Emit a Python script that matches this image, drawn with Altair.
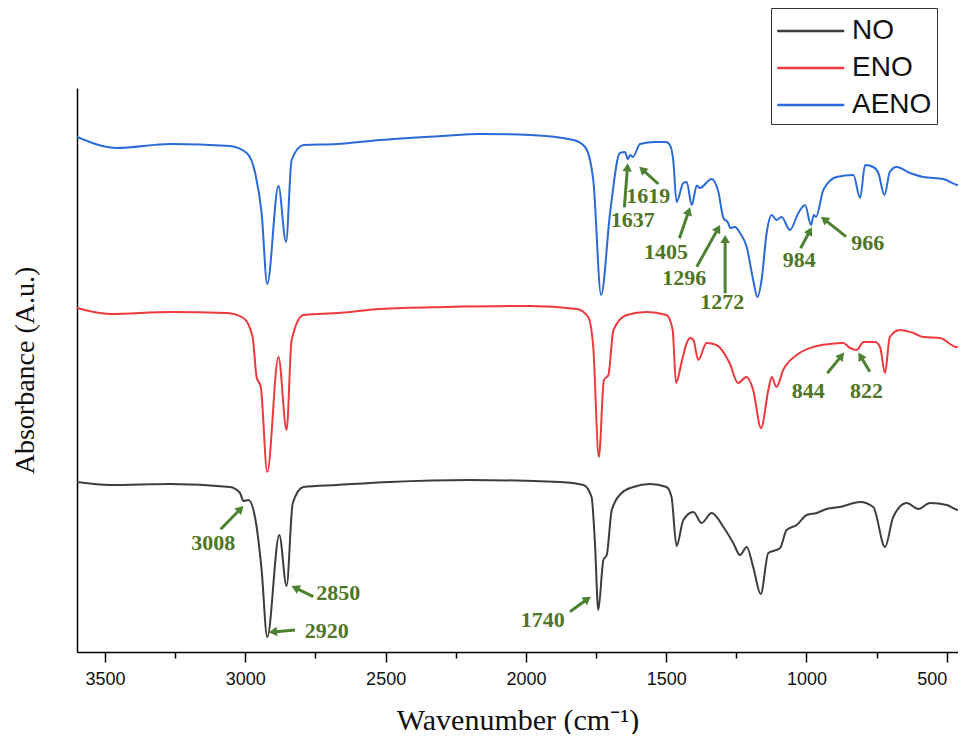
import math
import altair as alt
import pandas as pd

# ---- spectra (wavenumber cm-1, absorbance a.u., offset stacked) ----
NO_W = [3600, 3482, 3268, 3055, 3019, 3007, 2989, 2965, 2942, 2922, 2879, 2853, 2831, 2793, 2674, 2487, 2200,
        1878, 1795, 1766, 1754, 1742, 1724, 1712, 1694, 1659, 1617, 1558, 1499, 1481, 1463, 1439, 1403, 1374,
        1338, 1296, 1261, 1237, 1213, 1190, 1163, 1136, 1118, 1094, 1071, 1035, 999, 964, 929, 881, 809, 762,
        720, 691, 643, 601, 560, 500, 459, 432]
NO_V = [1.70, 1.67, 1.68, 1.65, 1.59, 1.51, 1.52, 1.34, 0.82, 0.15, 1.17, 0.66, 1.49, 1.65, 1.67, 1.70, 1.72,
        1.70, 1.67, 1.55, 1.09, 0.42, 0.92, 0.97, 1.42, 1.59, 1.65, 1.68, 1.65, 1.55, 1.06, 1.32, 1.40, 1.29,
        1.39, 1.25, 1.09, 0.97, 1.05, 0.85, 0.58, 0.99, 1.01, 1.04, 1.22, 1.27, 1.37, 1.39, 1.43, 1.45, 1.50, 1.45,
        1.05, 1.35, 1.49, 1.43, 1.49, 1.47, 1.42, 1.45]

ENO_W = [3600, 3482, 3268, 3066, 3007, 2974, 2960, 2945, 2922, 2882, 2853, 2835, 2793, 2674, 2520, 2282, 1985,
         1819, 1778, 1760, 1740, 1722, 1706, 1688, 1641, 1570, 1499, 1477, 1465, 1445, 1427, 1415, 1403, 1386,
         1356, 1321, 1274, 1244, 1214, 1190, 1162, 1136, 1124, 1107, 1083, 1035, 976, 916, 869, 844, 821, 797,
         756, 738, 720, 703, 667, 619, 584, 524, 465, 432]
ENO_V = [3.44, 3.38, 3.40, 3.39, 3.34, 3.15, 2.75, 2.65, 1.80, 2.95, 2.22, 3.12, 3.37, 3.39, 3.43, 3.45, 3.46,
         3.43, 3.35, 3.05, 1.95, 2.72, 2.77, 3.22, 3.37, 3.40, 3.37, 3.22, 2.69, 2.90, 3.09, 3.14, 3.12, 2.92,
         3.09, 3.07, 2.89, 2.69, 2.75, 2.62, 2.24, 2.62, 2.75, 2.65, 2.82, 2.97, 3.05, 3.08, 3.09, 3.04, 3.02, 3.10,
         3.10, 3.05, 2.79, 3.15, 3.22, 3.19, 3.15, 3.14, 3.05, 3.10]

AENO_W = [3600, 3458, 3268, 3055, 2995, 2965, 2942, 2922, 2882, 2855, 2835, 2793, 2674, 2520, 2300, 2164, 1985,
          1831, 1789, 1760, 1732, 1700, 1665, 1647, 1637, 1628, 1619, 1593, 1540, 1500, 1487, 1475, 1463, 1439,
          1427, 1409, 1391, 1380, 1338, 1314, 1296, 1279, 1272, 1255, 1237, 1213, 1190, 1175, 1160, 1142, 1124,
          1107, 1089, 1059, 1029, 1005, 984, 974, 966, 940, 893, 833, 809, 791, 762, 744, 722, 703, 679, 631, 584,
          512, 459, 432]
AENO_V = [5.15, 5.04, 5.08, 5.06, 4.99, 4.79, 4.39, 3.68, 4.66, 4.10, 4.92, 5.07, 5.08, 5.12, 5.16, 5.18, 5.17,
          5.12, 5.05, 4.72, 3.57, 4.39, 4.99, 5.00, 4.93, 4.97, 4.95, 5.08, 5.10, 5.10, 5.07, 4.92, 4.50, 4.69,
          4.70, 4.47, 4.665, 4.64, 4.73, 4.60, 4.34, 4.29, 4.24, 4.25, 4.19, 4.05, 3.72, 3.55, 3.72, 4.19, 4.37,
          4.32, 4.35, 4.22, 4.39, 4.47, 4.27, 4.37, 4.35, 4.62, 4.75, 4.77, 4.54, 4.87, 4.85, 4.79, 4.57, 4.80, 4.85,
          4.79, 4.75, 4.73, 4.67, 4.70]

SERIES = ["NO", "ENO", "AENO"]
COLORS = ["#3d3d3d", "#ee3a3d", "#2a6ad9"]

# ---- annotations: label, label pos, arrow tail, arrow tip ----
ANN_LABEL = ["3008", "2850", "2920", "1740", "1637", "1619", "1405", "1296", "1272", "984", "966", "844", "822"]
ANN_LW = [3114, 2669, 2710, 1940, 1619, 1564, 1501, 1436, 1300, 1026, 782, 994, 786]
ANN_LV = [1.087, 0.593, 0.213, 0.32, 4.32, 4.56, 4.003, 3.737, 3.503, 3.92, 4.093, 2.61, 2.61]
ANN_TW = [3088, 2758, 2823, 1843, 1649, 1528, 1453, 1391, 1290, 1021, 859, 926, 774]
ANN_TV = [1.227, 0.553, 0.22, 0.403, 4.447, 4.68, 4.137, 3.853, 3.587, 4.037, 4.153, 2.787, 2.803]
ANN_HW = [3007, 2835, 2916, 1769, 1637, 1596, 1415, 1308, 1290, 981, 948, 866, 815]
ANN_HV = [1.46, 0.66, 0.197, 0.553, 4.887, 4.853, 4.447, 4.27, 4.17, 4.247, 4.353, 2.993, 2.993]

X_MIN, X_MAX = 460, 3600
Y_MIN, Y_MAX = 0.0, 5.64
W, H = 881, 564
SX = W / (X_MAX - X_MIN)
SY = H / (Y_MAX - Y_MIN)

rows = []
for name, ws, vs in [("NO", NO_W, NO_V), ("ENO", ENO_W, ENO_V), ("AENO", AENO_W, AENO_V)]:
    for w, v in zip(ws, vs):
        rows.append({"series": name, "w": w, "v": v})
df = pd.DataFrame(rows)

arows = []
for lab, lw, lv, tw, tv, hw, hv in zip(ANN_LABEL, ANN_LW, ANN_LV, ANN_TW, ANN_TV, ANN_HW, ANN_HV):
    dxp = -(hw - tw) * SX
    dyp = -(hv - tv) * SY
    n = math.hypot(dxp, dyp)
    ux, uy = dxp / n, dyp / n
    ang = math.degrees(math.atan2(ux, -uy)) % 360
    arows.append({
        "label": lab, "lw": lw, "lv": lv, "tw": tw, "tv": tv,
        "ew": hw + 7 * ux / SX, "ev": hv + 7 * uy / SY,
        "cw": hw + 4 * ux / SX, "cv": hv + 4 * uy / SY,
        "angle": ang,
    })
adf = pd.DataFrame(arows)

TICKS = list(range(3500, 499, -250))
xscale = alt.Scale(domain=[X_MIN, X_MAX], reverse=True, nice=False, zero=False)
yscale = alt.Scale(domain=[Y_MIN, Y_MAX], nice=False, zero=False)

xaxis = alt.Axis(
    values=TICKS, format="d",
    labelExpr="datum.value % 500 === 0 ? datum.label : ''",
    tickSize={"condition": {"test": "datum.value % 500 === 0", "value": 10}, "value": 6},
    tickColor="#000000", tickWidth=1.5, domainColor="#000000", domainWidth=1.5,
    labelFont="Liberation Sans", labelFontSize=18, labelColor="#111111", labelPadding=8,
    labelFlush=15, labelOverlap=False,
    grid=False, title="Wavenumber (cm⁻¹)", titleFont="Liberation Serif", titleFontSize=30,
    titleFontWeight="normal", titleColor="#111111", titlePadding=17,
)
yaxis = alt.Axis(
    ticks=False, labels=False, grid=False, domainColor="#000000", domainWidth=1.5,
    title="Absorbance (A.u.)", titleFont="Liberation Serif", titleFontSize=28,
    titleFontWeight="normal", titleColor="#111111", titlePadding=38,
)

lines = alt.Chart(df).mark_line(strokeWidth=2, interpolate="monotone", clip=True).encode(
    x=alt.X("w:Q", scale=xscale, axis=xaxis),
    y=alt.Y("v:Q", scale=yscale, axis=yaxis),
    color=alt.Color(
        "series:N",
        scale=alt.Scale(domain=SERIES, range=COLORS),
        legend=alt.Legend(
            title=None, orient="none", legendX=694, legendY=-80,
            symbolType="M-1,0H3", symbolSize=1122, symbolStrokeWidth=2.5,
            labelFont="Liberation Sans", labelFontSize=28, labelColor="#111111",
            labelOffset=40, rowPadding=5, padding=5,
            strokeColor="#333333", fillColor="#ffffff",
        ),
    ),
    detail="series:N",
)

ARROW = "#4c8232"
TEXT = "#4f7526"

shafts = alt.Chart(adf).mark_rule(color=ARROW, strokeWidth=3).encode(
    x=alt.X("tw:Q", scale=xscale), y=alt.Y("tv:Q", scale=yscale),
    x2="ew:Q", y2="ev:Q",
)
heads = alt.Chart(adf).mark_point(shape="triangle-up", filled=True, color=ARROW, opacity=1, size=90).encode(
    x=alt.X("cw:Q", scale=xscale), y=alt.Y("cv:Q", scale=yscale),
    angle=alt.Angle("angle:Q", scale=None),
)
labels = alt.Chart(adf).mark_text(
    font="Liberation Serif", fontSize=22, fontWeight="bold", color=TEXT, align="center", baseline="middle",
).encode(
    x=alt.X("lw:Q", scale=xscale), y=alt.Y("lv:Q", scale=yscale), text="label:N",
)

chart = alt.layer(lines, shafts, heads, labels).properties(
    width=W, height=H,
    padding={"left": 69, "top": 80, "right": 0, "bottom": 82},
    autosize=alt.AutoSizeParams(type="none"),
).configure(background="#ffffff").configure_view(stroke=None)

chart.save("out.html", embed_options={"renderer": "svg", "actions": False})
